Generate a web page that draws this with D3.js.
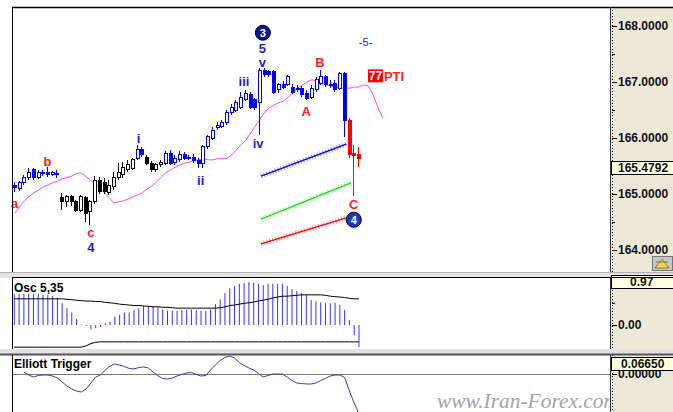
<!DOCTYPE html>
<html>
<head>
<meta charset="utf-8">
<script src="https://cdn.jsdelivr.net/npm/d3@7"></script>
<style>
  html, body { margin: 0; padding: 0; background: #fff; }
  svg { display: block; font-family: "Liberation Sans", Arial, sans-serif; }
</style>
</head>
<body>
<div id="chart"></div>
<script>
// ---- price candles (one per bar) ----
const opens = [165.16,165.09,165.20,165.29,165.43,165.29,165.36,165.39,165.34,165.36,
  164.93,164.86,164.95,164.86,164.71,164.93,164.68,164.86,165.25,165.21,
  165.02,165.13,165.29,165.34,165.43,165.46,165.64,165.80,165.66,165.55,
  165.43,165.52,165.55,165.73,165.57,165.61,165.70,165.64,165.66,165.59,
  165.54,165.84,166.00,166.18,166.21,166.27,166.45,166.50,166.55,166.68,
  166.77,166.68,166.63,167.21,167.18,167.18,166.86,166.95,166.96,166.91,
  166.89,166.89,166.80,166.73,166.86,166.98,167.09,166.95,166.98,166.89,
  167.16,166.32,165.73,165.70];
const highs = [165.21,165.23,165.34,165.46,165.46,165.43,165.43,165.48,165.41,165.43,
  165.02,164.98,164.98,164.89,164.98,164.96,164.89,165.32,165.30,165.29,
  165.25,165.39,165.55,165.57,165.61,165.64,165.88,165.84,165.70,165.59,
  165.55,165.61,165.77,165.79,165.70,165.77,165.75,165.70,165.71,165.64,
  165.88,166.05,166.20,166.29,166.32,166.50,166.61,166.68,166.82,166.86,
  166.82,166.71,167.25,167.25,167.21,167.21,166.98,167.02,167.13,166.96,
  166.95,166.93,166.86,166.95,167.09,167.21,167.13,167.04,167.04,167.18,
  167.18,166.36,165.88,165.84];
const lows = [165.04,165.05,165.16,165.25,165.25,165.27,165.32,165.30,165.32,165.29,
  164.71,164.77,164.79,164.68,164.68,164.50,164.45,164.82,165.00,165.00,
  164.98,165.07,165.25,165.29,165.39,165.43,165.61,165.66,165.52,165.39,
  165.39,165.48,165.52,165.52,165.52,165.57,165.61,165.61,165.55,165.46,
  165.46,165.80,165.96,166.14,166.18,166.23,166.41,166.46,166.52,166.66,
  166.52,166.50,166.05,167.09,167.09,166.79,166.80,166.88,166.93,166.79,
  166.82,166.73,166.68,166.70,166.82,166.95,166.91,166.89,166.82,166.86,
  166.02,165.64,164.96,165.48];
const closes = [165.11,165.20,165.29,165.39,165.29,165.38,165.38,165.34,165.38,165.37,
  164.86,164.95,164.86,164.71,164.95,164.66,164.86,165.25,165.04,165.04,
  165.16,165.30,165.39,165.48,165.52,165.61,165.79,165.70,165.55,165.43,
  165.52,165.57,165.73,165.55,165.64,165.70,165.64,165.66,165.59,165.54,
  165.84,166.02,166.14,166.23,166.27,166.45,166.54,166.63,166.73,166.80,
  166.55,166.54,167.21,167.13,167.13,166.82,166.95,166.91,167.09,166.82,
  166.86,166.77,166.71,166.89,167.04,167.09,166.95,166.96,166.86,167.16,
  166.32,165.70,165.68,165.64];
// wave colouring of the candles: [group, number of bars]
const candleRuns = [['blue', 10], ['black', 16], ['blue', 2], ['black', 4], ['blue', 39], ['red', 3]];
const lastPrice = 165.4792;

// displaced moving average (runs 5 bars past the last candle)
const movingAvg = [164.66,164.77,164.88,164.96,165.02,165.07,165.13,165.16,165.20,165.23,
  165.27,165.29,165.32,165.36,165.38,165.32,165.25,165.18,165.11,165.02,
  164.93,164.84,164.86,164.88,164.91,164.95,164.98,165.02,165.09,165.14,
  165.21,165.30,165.38,165.43,165.48,165.52,165.55,165.57,165.59,165.61,
  165.63,165.61,165.61,165.63,165.63,165.64,165.70,165.79,165.88,165.96,
  166.09,166.21,166.34,166.46,166.54,166.59,166.63,166.66,166.73,166.82,
  166.89,166.95,167.00,167.04,167.02,166.98,166.95,166.93,166.91,166.89,
  166.89,166.89,166.91,166.91,166.95,166.93,166.77,166.55,166.36];

// projection channels: start bar, start price, end bar, end price
const projNames = ['blue', 'green', 'red'];
const projStart = [[52.2, 165.32], [52.2, 164.55], [52.2, 164.11]];
const projEnd = [[70.3, 165.89], [71.3, 165.20], [71.0, 164.59]];

// wave labels: text, bar, price, group
const waveText = ['a', 'b', 'c', '4', 'i', 'ii', 'iii', 'iv', 'v', '5', 'A', 'B', 'C', '-5-'];
const waveBar = [-0.1, 6.9, 16.1, 16.1, 26.2, 39.4, 48.6, 51.6, 52.5, 52.5, 61.8, 64.7, 71.9, 74.4];
const wavePrice = [164.84, 165.59, 164.31, 164.05, 166.00, 165.25, 167.01, 165.91, 167.36, 167.61, 166.47, 167.36, 164.82, 167.71];
const waveGroup = ['red', 'red', 'red', 'blue', 'blue', 'blue', 'blue', 'blue', 'blue', 'blue', 'red', 'red', 'red', 'blue'];
const circleText = ['3', '4'];
const circleBar = [52.6, 71.9];
const circlePrice = [167.88, 164.54];
const ptiBar = 74.9, ptiPrice = 167.11;

const priceTicks = [164, 165, 166, 167, 168];

// ---- Osc 5,35 ----
const oscValues = [0.70,0.70,0.70,0.70,0.70,0.70,0.68,0.68,0.65,0.62,
  0.49,0.38,0.28,0.13,0.01,-0.02,-0.10,-0.07,-0.04,0.04,
  0.07,0.19,0.23,0.28,0.28,0.34,0.38,0.43,0.43,0.43,
  0.40,0.35,0.32,0.32,0.32,0.34,0.35,0.35,0.34,0.32,
  0.32,0.35,0.47,0.58,0.72,0.83,0.88,0.93,0.95,0.97,
  0.95,0.93,0.90,0.93,0.93,0.93,0.93,0.88,0.81,0.77,
  0.72,0.68,0.56,0.53,0.51,0.49,0.49,0.50,0.45,0.34,
  0.11,-0.23,-0.50];
const oscSignal = [0.59,0.59,0.59,0.59,0.59,0.59,0.59,0.59,0.59,0.59,
  0.59,0.58,0.57,0.56,0.55,0.54,0.54,0.53,0.53,0.51,
  0.50,0.49,0.47,0.46,0.45,0.44,0.44,0.43,0.42,0.41,
  0.41,0.40,0.40,0.39,0.38,0.38,0.38,0.38,0.38,0.38,
  0.38,0.38,0.38,0.39,0.41,0.44,0.45,0.47,0.49,0.50,
  0.52,0.54,0.56,0.58,0.61,0.63,0.65,0.65,0.66,0.67,
  0.68,0.68,0.68,0.68,0.68,0.67,0.65,0.64,0.63,0.62,
  0.60,0.59,0.59];
const oscFloor = [-0.50,-0.50,-0.50,-0.50,-0.50,-0.50,-0.50,-0.50,-0.50,-0.50,
  -0.50,-0.50,-0.50,-0.50,-0.50,-0.47,-0.42,-0.39,-0.38,-0.38,
  -0.38,-0.38,-0.38,-0.38,-0.38,-0.38,-0.38,-0.38,-0.38,-0.38,
  -0.38,-0.38,-0.38,-0.38,-0.38,-0.38,-0.38,-0.38,-0.38,-0.38,
  -0.38,-0.38,-0.38,-0.38,-0.38,-0.38,-0.38,-0.38,-0.38,-0.38,
  -0.38,-0.38,-0.38,-0.38,-0.38,-0.38,-0.38,-0.38,-0.38,-0.38,
  -0.38,-0.38,-0.38,-0.38,-0.38,-0.38,-0.38,-0.38,-0.38,-0.38,
  -0.38,-0.38,-0.38];
const oscMax = 0.97;

// ---- Elliott Trigger ----
const trigger = [null,null,0.0074,-0.0037,-0.0111,-0.0055,-0.0037,-0.0037,-0.0074,-0.0148,
  -0.0296,-0.0443,-0.0554,-0.0628,-0.0665,-0.0554,-0.0332,-0.0111,-0.0037,0.0148,
  0.0296,0.0369,0.0332,0.0277,0.0203,0.0185,0.0240,0.0259,0.0222,0.0074,
  -0.0074,-0.0166,-0.0185,-0.0148,-0.0074,-0.0018,0.0037,0.0055,-0.0018,-0.0074,
  -0.0055,0.0148,0.0332,0.0499,0.0609,0.0665,0.0591,0.0425,0.0314,0.0222,
  0.0148,0.0018,-0.0111,-0.0055,0.0000,0.0000,0.0000,-0.0111,-0.0240,-0.0332,
  -0.0351,-0.0369,-0.0369,-0.0332,-0.0240,-0.0166,-0.0074,-0.0037,-0.0037,-0.0129,
  -0.0628,-0.1071,-0.1478];
const triggerMax = 0.0665;

// ---- layout ----
const W = 673, H = 412;
const left = 12, axisX = 610;
const mainTop = 7, mainBottom = 272;
const oscTop = 278, oscBottom = 349;
const trigTop = 355;

const colors = { blue: '#0000ff', black: '#000000', red: '#ff0000', green: '#22dd22' };
const labelColors = { blue: '#1c1cdc', red: '#ff2020' };
const axisBg = '#ece9d8', boxBg = '#ffffe1';

const svg = d3.select('#chart').append('svg')
  .attr('width', W).attr('height', H);
svg.append('rect').attr('width', W).attr('height', H).attr('fill', '#fff');

const defs = svg.append('defs');
function clip(id, x0, y0, x1, y1) {
  defs.append('clipPath').attr('id', id).append('rect')
    .attr('x', x0).attr('y', y0).attr('width', x1 - x0).attr('height', y1 - y0);
}
clip('clipMain', left, mainTop, axisX, mainBottom);
clip('clipOsc', left, oscTop, axisX, oscBottom);
clip('clipTrig', left, trigTop, axisX, H);

// scales
const n = opens.length;
const x = d3.scaleLinear().domain([0, n - 1]).range([15, 359]);
const y = d3.scaleLinear().domain([164, 168]).range([250, 26]);
const xo = d3.scaleLinear().domain([0, oscValues.length - 1]).range([14.3, 359]);
const yo = d3.scaleLinear().domain([0, oscMax]).range([325, 282]);
const yt = d3.scaleLinear().domain([0, triggerMax]).range([374, 356]);

// panel separators
svg.append('rect').attr('x', 0).attr('y', mainBottom).attr('width', W).attr('height', oscTop - mainBottom)
  .attr('fill', '#e2e2e2');
svg.append('rect').attr('x', 0).attr('y', oscBottom).attr('width', W).attr('height', trigTop - oscBottom)
  .attr('fill', '#e2e2e2');

// ---------- main price panel ----------
const plot = svg.append('g').attr('clip-path', 'url(#clipMain)');

const maLine = d3.line().x((d, i) => x(i)).y(d => y(d));
plot.append('path').datum(movingAvg)
  .attr('d', maLine).attr('fill', 'none')
  .attr('stroke', '#ff44ff').attr('stroke-width', 1);

// projection channels (hatched look)
const seg = d3.line().x(d => x(d[0])).y(d => y(d[1]));
projNames.forEach((name, k) => {
  const pts = [projStart[k], projEnd[k]];
  plot.append('path').attr('d', seg(pts))
    .attr('stroke', colors[name]).attr('stroke-width', 5)
    .attr('stroke-dasharray', '1,2').attr('opacity', 0.4).attr('fill', 'none');
  plot.append('path').attr('d', seg(pts))
    .attr('stroke', colors[name]).attr('stroke-width', 1.3).attr('fill', 'none');
});

// candles
const groupOf = [];
candleRuns.forEach(r => { for (let k = 0; k < r[1]; k++) groupOf.push(r[0]); });
const candles = d3.range(n).map(i => ({
  i: i, o: opens[i], h: highs[i], l: lows[i], c: closes[i], g: groupOf[i]
}));

const cg = plot.append('g').attr('shape-rendering', 'crispEdges');
cg.selectAll('line.wick').data(candles).enter().append('line')
  .attr('x1', d => Math.round(x(d.i)) - 0.5).attr('x2', d => Math.round(x(d.i)) - 0.5)
  .attr('y1', d => y(d.h)).attr('y2', d => y(d.l))
  .attr('stroke', d => colors[d.g]).attr('stroke-width', 1);
cg.selectAll('rect.body').data(candles).enter().append('rect')
  .attr('x', d => Math.round(x(d.i)) - 2)
  .attr('y', d => y(Math.max(d.o, d.c)))
  .attr('width', 3)
  .attr('height', d => Math.max(1, Math.abs(y(d.o) - y(d.c))))
  .attr('fill', d => d.c >= d.o ? '#fff' : colors[d.g])
  .attr('stroke', d => colors[d.g]).attr('stroke-width', 1);

// wave labels
const labels = svg.append('g').attr('font-weight', 'bold').attr('font-size', 13)
  .attr('text-anchor', 'middle');
waveText.forEach((t, k) => {
  labels.append('text')
    .attr('x', x(waveBar[k])).attr('y', y(wavePrice[k]))
    .attr('dy', '0.36em')
    .attr('font-size', t === '-5-' ? 11 : 13)
    .attr('font-weight', t === '-5-' ? 'normal' : 'bold')
    .attr('fill', labelColors[waveGroup[k]])
    .text(t);
});
circleText.forEach((t, k) => {
  labels.append('circle')
    .attr('cx', x(circleBar[k])).attr('cy', y(circlePrice[k])).attr('r', 7.5)
    .attr('fill', k === 0 ? '#1010a8' : '#1838d0').attr('stroke', '#000').attr('stroke-width', 1);
  labels.append('text')
    .attr('x', x(circleBar[k])).attr('y', y(circlePrice[k])).attr('dy', '0.36em')
    .attr('font-size', 11).attr('fill', '#fff').text(t);
});
// 77 PTI tag
const ptiX = x(ptiBar), ptiY = y(ptiPrice);
labels.append('rect').attr('x', ptiX).attr('y', ptiY - 6.5).attr('width', 15).attr('height', 13)
  .attr('fill', '#ff0000');
labels.append('text').attr('x', ptiX + 7.5).attr('y', ptiY).attr('dy', '0.36em')
  .attr('fill', '#fff').attr('font-size', 12).text('77');
labels.append('text').attr('x', ptiX + 16).attr('y', ptiY).attr('dy', '0.36em')
  .attr('text-anchor', 'start').attr('fill', '#ff2020').attr('font-size', 13).text('PTI');

// ---------- Osc 5,35 ----------
const og = svg.append('g').attr('clip-path', 'url(#clipOsc)');
og.selectAll('line.bar').data(oscValues).enter().append('line')
  .attr('x1', (d, i) => xo(i)).attr('x2', (d, i) => xo(i))
  .attr('y1', yo(0)).attr('y2', d => yo(d))
  .attr('stroke', '#3434ff').attr('stroke-width', 1);
const oscLine = d3.line().x((d, i) => xo(i)).y(d => yo(d));
og.append('path').datum(oscSignal).attr('d', oscLine)
  .attr('fill', 'none').attr('stroke', '#000').attr('stroke-width', 1);
og.append('path').datum(oscFloor).attr('d', oscLine)
  .attr('fill', 'none').attr('stroke', '#000').attr('stroke-width', 1);
svg.append('text').attr('x', 14).attr('y', oscTop + 14)
  .attr('font-size', 12).attr('font-weight', 'bold').text('Osc 5,35');

// ---------- Elliott Trigger ----------
const tg = svg.append('g').attr('clip-path', 'url(#clipTrig)');
tg.append('line').attr('x1', left).attr('x2', axisX)
  .attr('y1', Math.round(yt(0)) + 0.5).attr('y2', Math.round(yt(0)) + 0.5)
  .attr('stroke', '#7a7a7a').attr('stroke-width', 1);
tg.append('path').datum(trigger)
  .attr('d', d3.line().defined(d => d !== null).x((d, i) => xo(i)).y(d => yt(d)))
  .attr('fill', 'none').attr('stroke', '#3c3ca4').attr('stroke-width', 1);
svg.append('text').attr('x', 14).attr('y', trigTop + 13)
  .attr('font-size', 12).attr('font-weight', 'bold').text('Elliott Trigger');

// watermark
svg.append('text').attr('x', 437).attr('y', 408)
  .attr('font-family', '"Liberation Serif", "Times New Roman", serif')
  .attr('font-style', 'italic').attr('font-size', 20)
  .attr('textLength', 182).attr('lengthAdjust', 'spacingAndGlyphs')
  .attr('fill', '#a4a4a4').text('www.Iran-Forex.com');

// ---------- right axis panel ----------
svg.append('rect').attr('x', axisX).attr('y', mainTop).attr('width', W - axisX).attr('height', mainBottom - mainTop)
  .attr('fill', axisBg);
svg.append('rect').attr('x', axisX).attr('y', oscTop - 2).attr('width', W - axisX).attr('height', oscBottom - oscTop + 2)
  .attr('fill', axisBg);
svg.append('rect').attr('x', axisX).attr('y', trigTop).attr('width', W - axisX).attr('height', H - trigTop)
  .attr('fill', axisBg);

function dotted(y0, y1) {
  svg.append('line').attr('x1', axisX + 2.5).attr('x2', axisX + 2.5).attr('y1', y0).attr('y2', y1)
    .attr('stroke', '#000').attr('stroke-dasharray', '1,2');
}
dotted(mainTop, mainBottom); dotted(oscTop, oscBottom); dotted(trigTop, H);

function styleAxis(g) {
  g.select('.domain').remove();
  g.attr('font-family', '"Liberation Sans", Arial, sans-serif')
    .attr('font-size', 12).attr('font-weight', 'bold');
  g.selectAll('text').attr('fill', '#111');
}
svg.append('g').attr('transform', `translate(${axisX + 2},0)`)
  .call(d3.axisRight(y).tickValues(priceTicks).tickFormat(d3.format('.4f')).tickSize(5).tickPadding(1))
  .call(styleAxis);
svg.append('g').attr('transform', `translate(${axisX + 2},0)`)
  .call(d3.axisRight(y).tickValues([164.5, 165.5, 166.5, 167.5]).tickFormat('').tickSize(3))
  .call(styleAxis);
svg.append('g').attr('transform', `translate(${axisX + 2},0)`)
  .call(d3.axisRight(yo).tickValues([0]).tickFormat(d3.format('.2f')).tickSize(5).tickPadding(1))
  .call(styleAxis);
svg.append('g').attr('transform', `translate(${axisX + 2},0)`)
  .call(d3.axisRight(yo).tickValues([0.5]).tickFormat('').tickSize(3))
  .call(styleAxis);
svg.append('g').attr('transform', `translate(${axisX + 2},0)`)
  .call(d3.axisRight(yt).tickValues([0]).tickFormat(d3.format('.5f')).tickSize(5).tickPadding(1))
  .call(styleAxis);

// value boxes
function valueBox(cy, txt, tx) {
  svg.append('rect').attr('x', axisX + 1.5).attr('y', Math.round(cy - 7) + 0.5)
    .attr('width', W - axisX).attr('height', 13)
    .attr('fill', boxBg).attr('stroke', '#000').attr('stroke-width', 1);
  svg.append('text').attr('x', tx).attr('y', cy).attr('dy', '0.36em')
    .attr('font-size', 12).attr('font-weight', 'bold').attr('fill', '#111').text(txt);
}
valueBox(y(lastPrice) + 0.8, d3.format('.4f')(lastPrice), 618);
valueBox(282, d3.format('.2f')(oscMax), 630);
valueBox(364, d3.format('.5f')(triggerMax), 621);

// small toolbar icon
svg.append('rect').attr('x', 652.5).attr('y', 256.5).attr('width', 20).attr('height', 14)
  .attr('fill', '#c8c8c8').attr('stroke', '#777');
svg.append('path').attr('d', 'M655,268 L662,259 L669,268 Z M656,262 L668,262')
  .attr('fill', '#e8d84a').attr('stroke', '#6a6a20').attr('stroke-width', 0.8);

// frame lines
svg.append('line').attr('x1', left).attr('x2', W).attr('y1', mainTop + 0.5).attr('y2', mainTop + 0.5)
  .attr('stroke', '#000').attr('stroke-width', 1.5);
svg.append('line').attr('x1', 0).attr('x2', W).attr('y1', mainBottom + 0.5).attr('y2', mainBottom + 0.5)
  .attr('stroke', '#b0b0b0');
svg.append('line').attr('x1', left).attr('x2', W).attr('y1', oscTop - 0.5).attr('y2', oscTop - 0.5)
  .attr('stroke', '#000').attr('stroke-width', 1);
svg.append('line').attr('x1', 0).attr('x2', W).attr('y1', trigTop - 0.5).attr('y2', trigTop - 0.5)
  .attr('stroke', '#555').attr('stroke-width', 2);
[[mainTop, mainBottom], [oscTop, oscBottom], [trigTop, H]].forEach(p => {
  svg.append('line').attr('x1', left + 0.5).attr('x2', left + 0.5).attr('y1', p[0]).attr('y2', p[1])
    .attr('stroke', '#000');
  svg.append('line').attr('x1', axisX + 0.5).attr('x2', axisX + 0.5).attr('y1', p[0]).attr('y2', p[1])
    .attr('stroke', '#333');
});
</script>
</body>
</html>
